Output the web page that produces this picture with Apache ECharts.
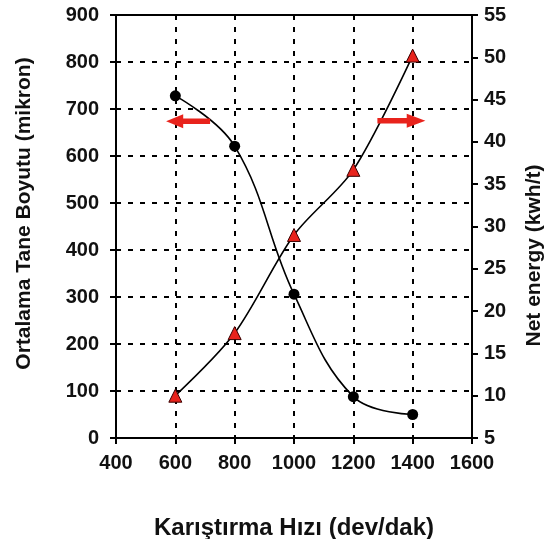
<!DOCTYPE html>
<html>
<head>
<meta charset="utf-8">
<script src="https://cdn.jsdelivr.net/npm/echarts@6/dist/echarts.min.js"></script>
<style>
  html, body { margin: 0; padding: 0; background: #fff; }
  #main { width: 547px; height: 539px; }
</style>
</head>
<body>
<div id="main"></div>
<script>
// karistirma hizi (dev/dak)
var speeds = [600, 800, 1000, 1200, 1400];
// ortalama tane boyutu (mikron) - siyah daireler, sol eksen
var grainSize = [728, 621, 306, 88, 50];
// net enerji (kwh/t) - kirmizi ucgenler, sag eksen
var netEnergy = [10, 17.4, 29, 36.7, 50.2];
// yon oklari: [x, y] veri koordinatlari
var leftArrowAt = [643, 674];
var rightArrowAt = [1362, 42.5];

var FONT = '"Liberation Sans", Arial, sans-serif';

var arrowRight = 'path://M0,3 L11,3 L11,0 L18,5 L11,10 L11,7 L0,7 Z';
var arrowLeft = 'path://M18,3 L7,3 L7,0 L0,5 L7,10 L7,7 L18,7 Z';

var tickLabel = { fontFamily: FONT, fontWeight: 'bold', fontSize: 20, color: '#111' };
var titleText = { fontFamily: FONT, fontWeight: 'bold', fontSize: 21, color: '#111' };
var plain = function (v) { return String(v); };

var option = {
  backgroundColor: '#ffffff',
  animation: false,
  textStyle: { fontFamily: FONT },
  grid: {
    show: true,
    left: 116,
    right: 75,
    top: 15,
    bottom: 101,
    outerBoundsMode: 'none',
    containLabel: false,
    borderColor: '#000',
    borderWidth: 2,
    backgroundColor: 'transparent'
  },
  xAxis: {
    type: 'value',
    min: 400,
    max: 1600,
    interval: 200,
    name: 'Karıştırma Hızı (dev/dak)',
    nameLocation: 'middle',
    nameGap: 78,
    nameTextStyle: Object.assign({}, titleText, { fontSize: 24 }),
    axisLine: { lineStyle: { color: '#000', width: 2 } },
    axisTick: { show: true, length: 6, lineStyle: { color: '#000', width: 2 } },
    axisLabel: Object.assign({ margin: 15, formatter: plain }, tickLabel),
    splitLine: { show: true, lineStyle: { color: '#000', width: 2, type: [5, 7] } }
  },
  yAxis: [
    {
      type: 'value',
      min: 0,
      max: 900,
      interval: 100,
      name: 'Ortalama Tane Boyutu (mikron)',
      nameLocation: 'middle',
      nameGap: 81,
      nameRotate: 90,
      nameTextStyle: Object.assign({}, titleText, { padding: [0, 0, 0, 26] }),
      axisLine: { show: true, lineStyle: { color: '#000', width: 2 } },
      axisTick: { show: true, length: 6, lineStyle: { color: '#000', width: 2 } },
      axisLabel: Object.assign({ margin: 17, formatter: plain }, tickLabel),
      splitLine: { show: true, lineStyle: { color: '#000', width: 2, type: [5, 7] } }
    },
    {
      type: 'value',
      min: 5,
      max: 55,
      interval: 5,
      position: 'right',
      name: 'Net energy (kwh/t)',
      nameLocation: 'middle',
      nameGap: 52,
      nameRotate: 90,
      nameTextStyle: Object.assign({}, titleText, { padding: [0, 58, 0, 0] }),
      axisLine: { show: true, lineStyle: { color: '#000', width: 2 } },
      axisTick: { show: true, length: 6, lineStyle: { color: '#000', width: 2 } },
      axisLabel: Object.assign({ margin: 12, formatter: plain }, tickLabel),
      splitLine: { show: false }
    }
  ],
  series: [
    {
      name: 'Ortalama Tane Boyutu',
      type: 'line',
      yAxisIndex: 0,
      data: speeds.map(function (s, i) { return [s, grainSize[i]]; }),
      smooth: 0.4,
      symbol: 'circle',
      symbolSize: 11,
      itemStyle: { color: '#000' },
      lineStyle: { color: '#000', width: 1.6 },
      markPoint: {
        symbol: arrowLeft,
        symbolSize: [44, 14],
        itemStyle: { color: '#e8231c' },
        label: { show: false },
        data: [{ coord: leftArrowAt }]
      }
    },
    {
      name: 'Net energy',
      type: 'line',
      yAxisIndex: 1,
      data: speeds.map(function (s, i) { return [s, netEnergy[i]]; }),
      smooth: 0.3,
      symbol: 'triangle',
      symbolSize: 13,
      itemStyle: { color: '#e8231c', borderColor: '#3a0000', borderWidth: 1 },
      lineStyle: { color: '#000', width: 1.6 },
      markPoint: {
        symbol: arrowRight,
        symbolSize: [48, 14],
        itemStyle: { color: '#e8231c' },
        label: { show: false },
        data: [{ coord: rightArrowAt }]
      }
    }
  ]
};

var chart = echarts.init(document.getElementById('main'), null, { renderer: 'canvas' });
chart.setOption(option);
</script>
</body>
</html>
